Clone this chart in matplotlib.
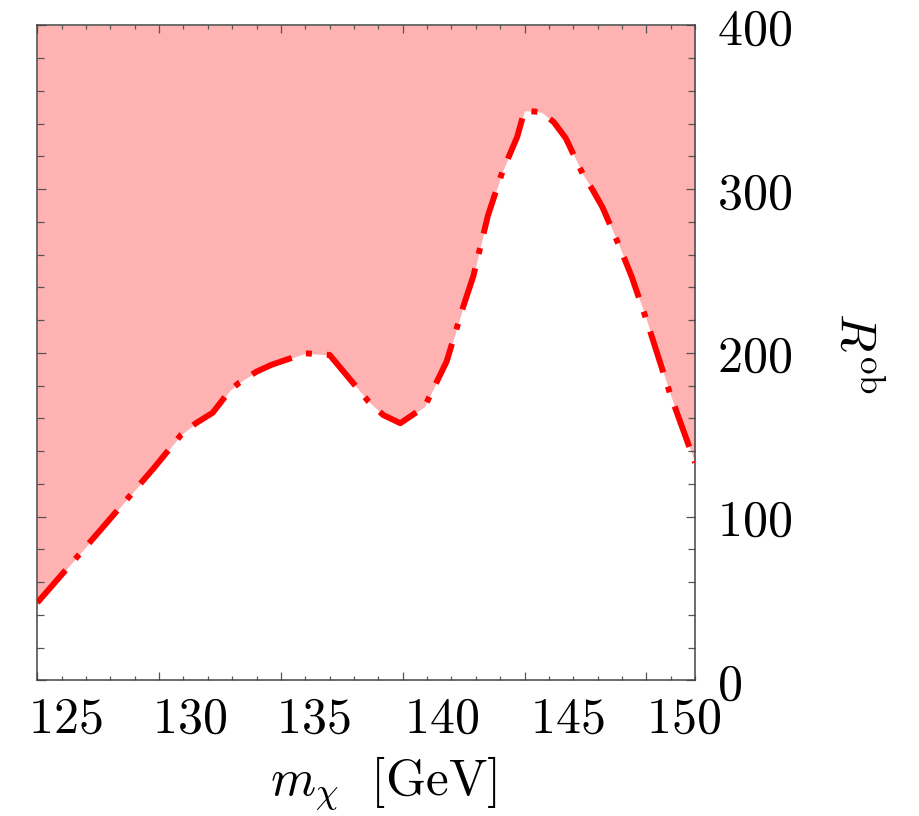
import matplotlib
matplotlib.use('Agg')
import matplotlib.pyplot as plt
import matplotlib.transforms as mtransforms
from matplotlib.ticker import MultipleLocator, FixedLocator

plt.rcParams['mathtext.fontset'] = 'cm'
plt.rcParams['font.family'] = ['DejaVu Serif']

# ---- data ----
mx = [125.0, 127.6, 129.8, 130.9, 131.5, 132.2, 132.9, 133.3, 134.0, 134.6,
      136.0, 136.4, 137.0, 138.6, 139.2, 139.9, 140.9, 141.1, 141.8, 142.5,
      142.9, 143.5, 144.1, 144.7, 145.0, 145.7, 146.2, 146.7, 147.4, 147.8,
      148.2, 148.9, 149.4, 150.0, 151.0, 152.0]
r_ob = [47.5, 92.0, 130.0, 150.0, 157.0, 163.5, 177.0, 182.0, 188.6, 192.7,
        199.8, 199.4, 198.8, 170.3, 162.1, 157.1, 167.2, 173.3, 194.7, 229.0,
        247.0, 284.0, 311.0, 332.0, 348.0, 347.0, 341.0, 331.0, 309.0, 299.5,
        289.0, 265.0, 246.6, 220.5, 174.0, 133.0]

x_ticks = [125, 130, 135, 140, 145, 150]
x_ticklabels = ['125', '130', '135', '140', '145', '150']
y_ticks = [0, 100, 200, 300, 400]
y_ticklabels = ['0', '100', '200', '300', '400']
x_label_shift_px = [28, 30, 32, 39, 43, 37]

fig = plt.figure(figsize=(9.19, 8.16), dpi=100)
ax = fig.add_axes([0.0406, 0.1661, 0.7157, 0.8027])

ax.fill_between(mx, r_ob, 400, color='#ffb2b2', lw=0, zorder=1)
ax.plot(mx, r_ob, color='#ff0000', lw=4.3, linestyle=(0, (7.2, 2.5, 1.0, 2.5)),
        dash_capstyle='butt', solid_capstyle='butt', zorder=3)

ax.set_xlim(125, 152)
ax.set_ylim(0, 400)

ax.xaxis.set_major_locator(FixedLocator(x_ticks))
ax.xaxis.set_minor_locator(MultipleLocator(1))
ax.yaxis.set_major_locator(FixedLocator(y_ticks))
ax.yaxis.set_minor_locator(MultipleLocator(20))

ax.set_xticklabels(['$' + t + '$' for t in x_ticklabels], fontsize=36)
ax.set_yticklabels(['$' + t + '$' for t in y_ticklabels], fontsize=36)

tick_col = '#555555'
ax.tick_params(which='both', direction='in', top=True, right=True, left=True,
               bottom=True, labelleft=False, labelright=True, color=tick_col,
               width=0.9)
ax.tick_params(axis='x', which='major', length=6.0, pad=10)
ax.tick_params(axis='x', which='minor', length=3.2)
ax.tick_params(axis='y', which='major', length=6.5, pad=16)
ax.tick_params(axis='y', which='minor', length=4.8)

for lab, dx in zip(ax.get_xticklabels(), x_label_shift_px):
    lab.set_transform(lab.get_transform() +
                      mtransforms.ScaledTranslation(dx / 100.0, 0, fig.dpi_scale_trans))

for sp in ax.spines.values():
    sp.set_color('#444444')
    sp.set_linewidth(1.1)

ax.set_xlabel(r'$m_\chi\ \ [\mathrm{GeV}]$', fontsize=37, va='top')
ax.xaxis.set_label_coords(0.527, -0.114)
ax.yaxis.set_label_position('right')
ax.set_ylabel(r'$R^{\rm ob}$', fontsize=36, rotation=-90, va='bottom', labelpad=27)

fig.savefig('out.png', dpi=100)
